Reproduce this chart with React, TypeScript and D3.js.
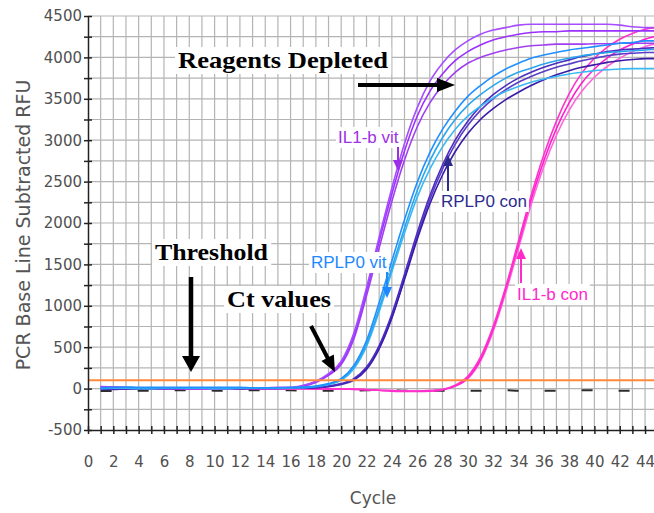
import React, { useEffect, useRef } from 'react';
import * as d3 from 'd3';

// cycle numbers (x)
const cycles = [1, 2, 3, 4, 5, 6, 7, 8, 9, 10, 11, 12, 13, 14, 15, 16, 17, 18, 19, 20, 21, 22, 23, 24, 25, 26, 27, 28, 29, 30, 31, 32, 33, 34, 35, 36, 37, 38, 39, 40, 41, 42, 43, 44, 45];

// RFU readings per cycle
const il1bVitA = [20, 15, 10, 10, 5, 5, 5, 0, 0, 0, 5, 5, 10, 10, 15, 15, 40, 90, 180, 330, 670, 1220, 1830, 2420, 2960, 3390, 3710, 3930, 4090, 4200, 4280, 4330, 4360, 4390, 4400, 4400, 4400, 4400, 4400, 4400, 4400, 4390, 4370, 4360, 4360];
const il1bVitB = [25, 20, 15, 10, 10, 5, 5, 5, 0, 0, 0, 5, 5, 10, 10, 10, 35, 85, 170, 310, 640, 1180, 1780, 2350, 2870, 3290, 3590, 3800, 3960, 4070, 4150, 4210, 4250, 4280, 4300, 4310, 4310, 4320, 4320, 4320, 4320, 4320, 4320, 4320, 4320];
const il1bVitC = [15, 10, 10, 5, 5, 0, 0, 0, 5, 5, 5, 10, 10, 10, 10, 10, 30, 75, 160, 290, 600, 1120, 1700, 2260, 2760, 3160, 3450, 3660, 3820, 3930, 4000, 4050, 4090, 4120, 4140, 4150, 4160, 4160, 4160, 4165, 4165, 4170, 4170, 4170, 4170];

const rplp0VitA = [10, 15, 20, 15, 15, 15, 15, 15, 15, 15, 15, 15, 10, 10, 10, 15, 20, 30, 60, 120, 280, 580, 1040, 1540, 2040, 2490, 2850, 3130, 3350, 3530, 3660, 3770, 3860, 3930, 3990, 4030, 4060, 4090, 4110, 4130, 4150, 4170, 4180, 4200, 4200];
const rplp0VitB = [5, 10, 10, 10, 5, 5, 5, 10, 10, 10, 10, 5, 5, 5, 10, 10, 15, 25, 55, 110, 260, 540, 970, 1460, 1940, 2390, 2750, 3030, 3250, 3420, 3550, 3660, 3750, 3820, 3870, 3920, 3960, 3990, 4020, 4040, 4060, 4070, 4080, 4090, 4100];
const rplp0VitC = [0, 5, 5, 0, 0, 5, 5, 5, 5, 0, 0, 5, 5, 5, 5, 10, 10, 25, 50, 100, 240, 510, 930, 1410, 1880, 2310, 2650, 2920, 3130, 3290, 3410, 3510, 3590, 3650, 3700, 3740, 3770, 3800, 3820, 3840, 3850, 3860, 3865, 3865, 3865];

const rplp0ConA = [-10, -10, -5, -5, 0, 0, 0, 0, 5, 5, 5, 0, 0, 5, 5, 5, 10, 15, 30, 60, 120, 260, 520, 900, 1380, 1880, 2330, 2700, 3000, 3230, 3410, 3550, 3660, 3750, 3820, 3880, 3930, 3970, 4010, 4040, 4070, 4090, 4100, 4110, 4120];
const rplp0ConB = [-5, -5, 0, 0, 0, 0, 5, 5, 5, 0, 0, 0, 5, 5, 5, 5, 5, 10, 25, 55, 110, 240, 490, 860, 1320, 1800, 2230, 2580, 2860, 3080, 3250, 3380, 3490, 3580, 3660, 3730, 3790, 3840, 3880, 3910, 3940, 3960, 3975, 3985, 3985];
const rplp0ConC = [0, 0, 0, 5, 5, 5, 0, 0, 0, 5, 5, 5, 5, 0, 0, 5, 5, 10, 25, 50, 100, 230, 480, 850, 1330, 1830, 2280, 2650, 2950, 3180, 3360, 3500, 3610, 3700, 3770, 3830, 3880, 3920, 3960, 3990, 4020, 4040, 4050, 4060, 4060];

const il1bConA = [10, 10, 5, 5, 5, 0, 0, 0, 0, 0, 5, 5, 5, 0, 0, 0, 0, 0, 0, -5, -5, -10, -20, -25, -30, -30, -25, -10, 40, 150, 380, 750, 1230, 1780, 2330, 2820, 3230, 3560, 3810, 3990, 4120, 4220, 4290, 4340, 4360];
const il1bConB = [20, 15, 10, 10, 5, 5, 5, 5, 5, 5, 0, 0, 0, 0, 0, 0, 0, -5, -5, -5, -10, -15, -20, -30, -35, -35, -30, -15, 30, 130, 350, 720, 1200, 1740, 2280, 2750, 3140, 3450, 3690, 3860, 3990, 4090, 4160, 4220, 4260];
const il1bConC = [15, 15, 10, 5, 5, 5, 0, 0, 0, 5, 5, 5, 0, 0, 0, 0, 0, 0, -5, -5, -5, -10, -20, -25, -30, -30, -25, -10, 30, 120, 330, 690, 1160, 1690, 2220, 2680, 3060, 3360, 3590, 3760, 3890, 3990, 4070, 4130, 4170];

const ntc = [-30, -30, -25, -25, -25, -20, -20, -20, -20, -25, -25, -25, -20, -20, -20, -20, -25, -25, -25, -25, -25, -20, -20, -20, -25, -25, -25, -25, -25, -25, -25, -20, -20, -25, -25, -25, -25, -25, -20, -20, -25, -25, -25, -25, -25];

const threshold = 100;

const yTicks = [-500, -250, 0, 250, 500, 750, 1000, 1250, 1500, 1750, 2000, 2250, 2500, 2750, 3000, 3250, 3500, 3750, 4000, 4250, 4500];
const xTicks = [0, 1, 2, 3, 4, 5, 6, 7, 8, 9, 10, 11, 12, 13, 14, 15, 16, 17, 18, 19, 20, 21, 22, 23, 24, 25, 26, 27, 28, 29, 30, 31, 32, 33, 34, 35, 36, 37, 38, 39, 40, 41, 42, 43, 44, 45];

const App = () => {
  const chartRef = useRef<HTMLDivElement>(null);

  useEffect(() => {
    const W = 654;
    const H = 513;

    const series = [
      { values: ntc, color: '#2b2b2b', dash: '11,26' },
      { values: il1bConC, color: '#ff66dd' },
      { values: il1bConB, color: '#ff1fcf' },
      { values: il1bConA, color: '#ff33cc' },
      { values: rplp0ConC, color: '#5a3cc8' },
      { values: rplp0ConB, color: '#3a1aa8' },
      { values: rplp0ConA, color: '#4b2cc0' },
      { values: il1bVitC, color: '#a040f0' },
      { values: il1bVitB, color: '#9b30ff' },
      { values: il1bVitA, color: '#a64dff' },
      { values: rplp0VitC, color: '#3ab8f2' },
      { values: rplp0VitB, color: '#2aa6ee' },
      { values: rplp0VitA, color: '#1e90ff' },
    ];

    const x = d3.scaleLinear().domain([0, 45]).range([88, 657.7]);
    const y = d3.scaleLinear().domain([-500, 4500]).range([430, 16]);

    const root = d3.select(chartRef.current);
    root.selectAll('*').remove();

    const svg = root
      .append('svg')
      .attr('width', W)
      .attr('height', H)
      .style('position', 'absolute')
      .style('left', 0)
      .style('top', 0)
      .style('background', '#fff');

    // grid
    svg
      .append('g')
      .selectAll('line')
      .data(xTicks.filter(d => d > 0))
      .enter()
      .append('line')
      .attr('x1', d => x(d))
      .attr('x2', d => x(d))
      .attr('y1', y(4500))
      .attr('y2', y(-500))
      .attr('stroke', '#b4b4b4')
      .attr('stroke-width', 1.2);

    svg
      .append('g')
      .selectAll('line')
      .data(yTicks.filter(d => d > -500))
      .enter()
      .append('line')
      .attr('x1', x(0))
      .attr('x2', W)
      .attr('y1', d => y(d))
      .attr('y2', d => y(d))
      .attr('stroke', '#b4b4b4')
      .attr('stroke-width', 1.2);

    // curves
    const line = d3
      .line<number>()
      .x((d, i) => x(cycles[i]))
      .y(d => y(d))
      .curve(d3.curveMonotoneX);

    svg
      .append('g')
      .selectAll('path')
      .data(series)
      .enter()
      .append('path')
      .attr('d', d => line(d.values))
      .attr('fill', 'none')
      .attr('stroke', d => d.color)
      .attr('stroke-width', d => (d.dash ? 2 : 1.6))
      .attr('stroke-dasharray', d => d.dash || null);

    // threshold
    svg
      .append('line')
      .attr('x1', x(0))
      .attr('x2', W)
      .attr('y1', y(threshold))
      .attr('y2', y(threshold))
      .attr('stroke', '#ff8a3d')
      .attr('stroke-width', 2);

    // axes
    const yAxis = svg
      .append('g')
      .attr('transform', `translate(${x(0)},0)`)
      .call(
        d3
          .axisLeft(y)
          .tickValues(yTicks)
          .tickSize(4)
          .tickSizeOuter(0)
          .tickFormat(d => (+d % 500 === 0 ? String(d) : ''))
      );
    yAxis.select('.domain').attr('stroke', '#222').attr('stroke-width', 1.5);
    yAxis.selectAll('.tick line').attr('x1', 4).attr('x2', -4).attr('stroke', '#222').attr('stroke-width', 1.5);
    yAxis
      .selectAll('.tick text')
      .attr('x', -6)
      .style('font-family', 'DejaVu Sans')
      .style('font-size', '15px')
      .attr('fill', '#505050');

    const xAxis = svg
      .append('g')
      .attr('transform', `translate(0,${y(-500)})`)
      .call(
        d3
          .axisBottom(x)
          .tickValues(xTicks)
          .tickSize(4)
          .tickSizeOuter(0)
          .tickFormat(d => (+d % 2 === 0 && +d <= 44 ? String(d) : ''))
      );
    xAxis.select('.domain').attr('stroke', '#222').attr('stroke-width', 1.5);
    xAxis.selectAll('.tick line').attr('y1', -4).attr('y2', 4).attr('stroke', '#222').attr('stroke-width', 1.5);
    xAxis
      .selectAll('.tick text')
      .attr('y', 26)
      .style('font-family', 'DejaVu Sans')
      .style('font-size', '15px')
      .attr('fill', '#505050');

    // axis titles
    svg
      .append('text')
      .attr('transform', 'rotate(-90)')
      .attr('x', -225)
      .attr('y', 30)
      .attr('text-anchor', 'middle')
      .style('font-family', 'DejaVu Sans')
      .style('font-size', '19px')
      .attr('fill', '#555')
      .text('PCR Base Line Subtracted RFU');

    svg
      .append('text')
      .attr('x', 373)
      .attr('y', 504)
      .attr('text-anchor', 'middle')
      .style('font-family', 'DejaVu Sans')
      .style('font-size', '17px')
      .attr('fill', '#555')
      .text('Cycle');

    // white box behind a text
    const boxed = (t: d3.Selection<SVGTextElement, unknown, null, undefined>, pad: number) => {
      const b = (t.node() as SVGTextElement).getBBox();
      svg
        .insert('rect', () => t.node())
        .attr('x', b.x - pad)
        .attr('y', b.y - 1)
        .attr('width', b.width + pad * 2)
        .attr('height', b.height + 2)
        .attr('fill', '#fff');
    };

    // bold annotations
    const notes = [
      { text: 'Reagents Depleted', x: 178, y: 68, w: 210 },
      { text: 'Threshold', x: 155, y: 260, w: 113 },
      { text: 'Ct values', x: 227, y: 307, w: 104 },
    ];
    notes.forEach(n => {
      const t = svg
        .append('text')
        .attr('x', n.x)
        .attr('y', n.y)
        .attr('textLength', n.w)
        .attr('lengthAdjust', 'spacingAndGlyphs')
        .style('font-family', 'Liberation Serif')
        .style('font-weight', 'bold')
        .style('font-size', '23px')
        .attr('fill', '#000')
        .text(n.text);
      boxed(t, 3);
    });

    // arrows
    const arrow = (x1: number, y1: number, x2: number, y2: number, head: number, half: number, color: string, sw: number) => {
      const dx = x2 - x1;
      const dy = y2 - y1;
      const len = Math.sqrt(dx * dx + dy * dy);
      const ux = dx / len;
      const uy = dy / len;
      const bx = x2 - ux * head;
      const by = y2 - uy * head;
      svg
        .append('line')
        .attr('x1', x1)
        .attr('y1', y1)
        .attr('x2', bx + ux)
        .attr('y2', by + uy)
        .attr('stroke', color)
        .attr('stroke-width', sw);
      svg
        .append('polygon')
        .attr('points', `${x2},${y2} ${bx - uy * half},${by + ux * half} ${bx + uy * half},${by - ux * half}`)
        .attr('fill', color);
    };
    arrow(358, 85, 455, 85, 18, 7, '#000', 4);
    arrow(191, 277, 191, 372, 16, 9, '#000', 4.5);
    arrow(311, 326, 335, 372, 16, 7, '#000', 4);

    // curve labels
    const labels = [
      { text: 'IL1-b vit', x: 338, y: 143, color: '#9d2fe6', ax: 398, a1: 147, a2: 171 },
      { text: 'RPLP0 con', x: 441, y: 207, color: '#2d2b8e', ax: 448, a1: 191, a2: 155 },
      { text: 'RPLP0 vit', x: 311, y: 268, color: '#1e88ff', ax: 387, a1: 272, a2: 298 },
      { text: 'IL1-b con', x: 517, y: 300, color: '#ff2acb', ax: 521, a1: 283, a2: 248 },
    ];
    labels.forEach(l => {
      const t = svg
        .append('text')
        .attr('x', l.x)
        .attr('y', l.y)
        .style('font-family', 'Liberation Sans')
        .style('font-size', '17px')
        .attr('fill', l.color)
        .text(l.text);
      boxed(t, 2);
      arrow(l.ax, l.a1, l.ax, l.a2, 11, 5, l.color, 2);
    });
  }, []);

  return <div ref={chartRef} style={{ width: 654, height: 513 }}></div>;
};

export default App;
